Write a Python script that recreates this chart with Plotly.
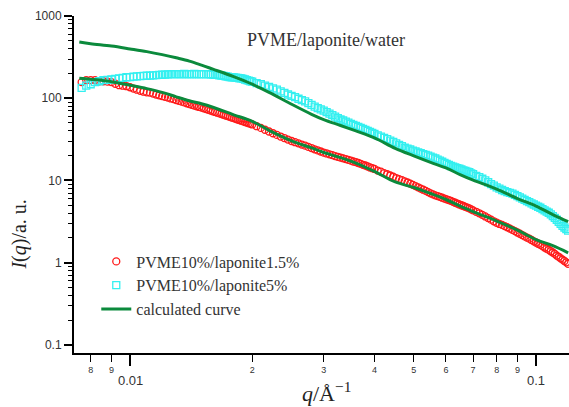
import math
import plotly.graph_objects as go

# ---- data ----
q_a = [0.0076, 0.0078, 0.0080, 0.0082, 0.0084, 0.0086, 0.0088, 0.0090, 0.0092, 0.0094, 0.0096, 0.0098, 0.0100]
q_b = [0.0102, 0.0104, 0.0106, 0.0108, 0.0110, 0.0112, 0.0114, 0.0116, 0.0118, 0.0120,
       0.0122, 0.0124, 0.0126, 0.0128, 0.0130, 0.0132, 0.0134, 0.0136, 0.0138, 0.0140,
       0.0142, 0.0144, 0.0146, 0.0148, 0.0150, 0.0152, 0.0154, 0.0156, 0.0158, 0.0160,
       0.0162, 0.0164, 0.0166, 0.0168, 0.0170, 0.0172, 0.0174, 0.0176, 0.0178, 0.0180,
       0.0182, 0.0184, 0.0186, 0.0188, 0.0190, 0.0192, 0.0194, 0.0196, 0.0198, 0.0200]
q_c = [0.0205, 0.0210, 0.0215, 0.0220, 0.0225, 0.0230, 0.0235, 0.0240, 0.0245, 0.0250,
       0.0255, 0.0260, 0.0265, 0.0270, 0.0275, 0.0280, 0.0285, 0.0290, 0.0295, 0.0300,
       0.0305, 0.0310, 0.0315, 0.0320, 0.0325, 0.0330, 0.0335, 0.0340, 0.0345, 0.0350,
       0.0355, 0.0360, 0.0365, 0.0370, 0.0375, 0.0380, 0.0385, 0.0390, 0.0395, 0.0400]
q_d = [0.04075, 0.0415, 0.04225, 0.0430, 0.04375, 0.0445, 0.04525, 0.0460, 0.04675, 0.0475,
       0.04825, 0.0490, 0.04975, 0.0505, 0.05125, 0.0520, 0.05275, 0.0535, 0.05425, 0.0550,
       0.05575, 0.0565, 0.05725, 0.0580, 0.05875, 0.0595, 0.06025, 0.0610, 0.06175, 0.0625,
       0.06325, 0.0640, 0.06475, 0.0655, 0.06625, 0.0670, 0.06775, 0.0685, 0.06925, 0.0700]
q_e = [0.07125, 0.0725, 0.07375, 0.0750, 0.07625, 0.0775, 0.07875, 0.0800, 0.08125, 0.0825,
       0.08375, 0.0850, 0.08625, 0.0875, 0.08875, 0.0900, 0.09125, 0.0925, 0.09375, 0.0950,
       0.09625, 0.0975, 0.09875, 0.1000, 0.10125, 0.1025, 0.10375, 0.1050, 0.10625, 0.1075,
       0.10875, 0.1100, 0.11125, 0.1125, 0.11375, 0.1150, 0.11625, 0.1175, 0.11875, 0.1200]
q_data = q_a + q_b + q_c + q_d + q_e

I_lap15 = [157, 166, 166, 166, 161, 161, 159, 157, 150, 144, 142, 140, 136,
           131, 127, 123, 120, 118, 117, 114, 111, 108.5, 106,
           104, 102, 99.4, 97.5, 95.1, 93.0, 90.9, 88.9, 86.9, 85.0,
           83.1, 81.5, 79.9, 78.3, 76.8, 75.3, 73.9, 72.4, 70.8, 69.4,
           68.1, 66.7, 65.4, 64.2, 62.9, 61.7, 60.5, 59.3, 58.2, 57.2,
           56.2, 55.1, 54.2, 53.3, 52.3, 51.4, 50.5, 49.7, 48.9, 48.0,
           45.7, 43.6, 41.4, 39.4, 37.5, 35.8, 34.2, 32.8, 31.4, 30.2,
           29.2, 28.3, 27.3, 26.5, 25.6, 24.8, 23.9, 23.2, 22.5, 21.8,
           21.3, 20.8, 20.3, 19.8, 19.4, 19.0, 18.6, 18.2, 17.8, 17.4,
           17.0, 16.7, 16.3, 15.9, 15.5, 15.2, 14.8, 14.4, 14.1, 13.8,
           13.2, 12.8, 12.3, 11.9, 11.5, 11.1, 10.7, 10.4, 10.1, 9.75,
           9.45, 9.17, 8.84, 8.55, 8.26, 7.97, 7.72, 7.47, 7.22, 6.98,
           6.77, 6.60, 6.45, 6.31, 6.17, 6.03, 5.90, 5.77, 5.64, 5.50,
           5.36, 5.24, 5.11, 5.00, 4.89, 4.78, 4.67, 4.57, 4.46, 4.33,
           4.16, 3.99, 3.82, 3.65, 3.49, 3.34, 3.19, 3.06, 2.96, 2.88,
           2.79, 2.70, 2.60, 2.51, 2.42, 2.33, 2.25, 2.17, 2.09, 2.02,
           1.96, 1.89, 1.82, 1.76, 1.70, 1.65, 1.59, 1.53, 1.48, 1.43,
           1.38, 1.33, 1.28, 1.22, 1.18, 1.13, 1.09, 1.05, 1.01, 0.97]

I_lap5 = [134, 142, 148, 157, 161, 166, 167, 169, 172, 174, 177, 180, 181,
          183, 184, 185.5, 187, 187.6, 188, 190, 191, 192, 193,
          194, 195, 196, 196, 196, 196, 196, 197, 196, 196,
          196, 197, 196, 196, 196, 196, 196, 196, 195, 194,
          193, 192, 190, 189, 187, 185, 183, 181, 180, 179,
          178, 177, 175, 174, 171.5, 169, 166, 164, 161, 159,
          153, 148, 142, 137, 132, 127, 121, 116, 111, 107,
          103, 98.6, 94.8, 91.4, 87.1, 83.1, 79.2, 75.7, 73.0, 70.6,
          67.7, 64.9, 62.2, 59.7, 57.4, 55.1, 53.6, 52.0, 50.4, 48.9,
          47.5, 46.2, 44.8, 43.6, 42.3, 41.2, 40.2, 39.0, 37.9, 36.8,
          35.4, 34.1, 32.9, 31.8, 30.6, 29.4, 28.3, 27.1, 26.1, 25.0,
          24.4, 23.8, 23.1, 22.6, 22.0, 21.5, 20.9, 20.5, 20.0, 19.5,
          19.0, 18.5, 17.9, 17.4, 16.9, 16.4, 15.9, 15.5, 15.0, 14.7,
          14.4, 14.1, 13.9, 13.6, 13.3, 13.1, 12.8, 12.6, 12.2, 11.9,
          11.4, 11.0, 10.5, 10.0, 9.51, 9.01, 8.64, 8.26, 7.94, 7.66,
          7.43, 7.20, 7.06, 6.92, 6.67, 6.45, 6.22, 6.00, 5.80, 5.61,
          5.44, 5.27, 5.10, 4.94, 4.79, 4.66, 4.49, 4.33, 4.19, 4.05,
          3.87, 3.69, 3.51, 3.33, 3.14, 2.96, 2.81, 2.68, 2.56, 2.45]

q_fit = [0.0075, 0.008, 0.009, 0.010, 0.011, 0.012, 0.013, 0.014, 0.015, 0.016,
         0.018, 0.020, 0.022, 0.025, 0.028, 0.030, 0.033, 0.036, 0.040, 0.045,
         0.050, 0.055, 0.060, 0.065, 0.070, 0.080, 0.090, 0.100, 0.110, 0.120]

I_fit_lap5 = [482, 460, 431, 398, 369, 339, 310, 283, 253, 226,
              183, 148, 118, 84.5, 63.8, 55.0, 46.6, 40.0, 32.9, 24.6,
              19.9, 16.6, 14.2, 11.8, 10.1, 7.86, 6.03, 4.89, 3.85, 3.16]

I_fit_lap15 = [175, 170, 159, 144, 131, 118, 104, 93.2, 85.7, 77.7,
               62.9, 52.4, 40.7, 30.3, 24.9, 21.9, 19.0, 16.3, 12.9, 9.59,
               8.22, 6.94, 5.87, 4.89, 4.19, 3.21, 2.49, 1.91, 1.61, 1.32]

names = ["PVME10%/laponite1.5%", "PVME10%/laponite5%", "calculated curve"]
plot_title = "PVME/laponite/water"

x_tickvals = [0.008, 0.009, 0.01, 0.02, 0.03, 0.04, 0.05, 0.06, 0.07, 0.08, 0.09, 0.1]
x_ticktext = ["8", "9", "", "2", "3", "4", "5", "6", "7", "8", "9", ""]
x_decades = [0.01, 0.1]
x_decade_text = ["0.01", "0.1"]
y_tickvals = [0.1, 1, 10, 100, 1000]
y_ticktext = ["0.1", "1", "10", "100", "1000"]
y_minor = [m * d for d in (0.1, 1, 10, 100) for m in range(2, 10)]

# ---- styles ----
RED = "#ff1a1a"
CYAN = "#33f0f0"
GREEN = "#0b8a3c"
SERIF = "Liberation Serif, serif"
SANS = "Liberation Sans, sans-serif"

fig = go.Figure()
fig.add_trace(go.Scatter(x=q_data, y=I_lap15, mode="markers", name=names[0],
                         marker=dict(symbol="circle-open", size=7, color=RED, line=dict(width=1.3))))
fig.add_trace(go.Scatter(x=q_data, y=I_lap5, mode="markers", name=names[1],
                         marker=dict(symbol="square-open", size=7, color=CYAN, line=dict(width=1.3))))
fig.add_trace(go.Scatter(x=q_fit, y=I_fit_lap5, mode="lines", name=names[2], legendgroup="fit",
                         line=dict(color=GREEN, width=3, shape="spline")))
fig.add_trace(go.Scatter(x=q_fit, y=I_fit_lap15, mode="lines", name=names[2], legendgroup="fit",
                         showlegend=False, line=dict(color=GREEN, width=3, shape="spline")))

fig.update_xaxes(type="log", range=[-2.138, -0.9187], showgrid=False, zeroline=False,
                 showline=True, linecolor="black", linewidth=2, automargin=False,
                 ticks="outside", ticklen=7, tickwidth=1, tickcolor="black",
                 tickvals=x_tickvals, ticktext=x_ticktext,
                 tickfont=dict(family=SANS, size=9, color="#333"),
                 minor=dict(tickvals=x_decades, ticks="outside", ticklen=11, tickwidth=1.5, tickcolor="black"))
fig.update_yaxes(type="log", range=[-1.098, 3.0], showgrid=False, zeroline=False,
                 showline=True, linecolor="black", linewidth=2, automargin=False,
                 ticks="outside", ticklen=8, tickwidth=1.5, tickcolor="black",
                 tickvals=y_tickvals, ticktext=y_ticktext,
                 tickfont=dict(family=SANS, size=12, color="#333"),
                 minor=dict(tickvals=y_minor, ticks="outside", ticklen=4, tickwidth=1, tickcolor="black"))

for xv, tx in zip(x_decades, x_decade_text):
    fig.add_annotation(x=math.log10(xv), xref="x", y=-0.082, yref="paper", text=tx, showarrow=False,
                       xanchor="center", yanchor="middle",
                       font=dict(family=SANS, size=13, color="#333"))

fig.add_annotation(x=0.51, xref="paper", y=-0.115, yref="paper",
                   text="<i>q</i>/Å<sup>−1</sup>", showarrow=False, xanchor="center", yanchor="middle",
                   font=dict(family=SERIF, size=22, color="#222"))
fig.add_annotation(x=-0.11, xref="paper", y=0.35, yref="paper", textangle=-90,
                   text="<i>I</i>(<i>q</i>)/a. u.", showarrow=False, xanchor="center", yanchor="middle",
                   font=dict(family=SERIF, size=20, color="#222"))
fig.add_annotation(x=0.51, xref="paper", y=0.93, yref="paper", text=plot_title, showarrow=False,
                   xanchor="center", yanchor="middle",
                   font=dict(family=SERIF, size=18, color="#333"))

fig.update_layout(width=569, height=407, margin=dict(l=74, r=0, t=16, b=54, autoexpand=False),
                  paper_bgcolor="white", plot_bgcolor="white",
                  legend=dict(x=0.045, y=0.322, xanchor="left", yanchor="top",
                              bgcolor="rgba(0,0,0,0)", font=dict(family=SERIF, size=16, color="#333"),
                              tracegroupgap=0, itemwidth=30),
                  showlegend=True)

fig.write_html("out.html", config={"displayModeBar": False},
               post_script="document.body.style.margin='0px';")
